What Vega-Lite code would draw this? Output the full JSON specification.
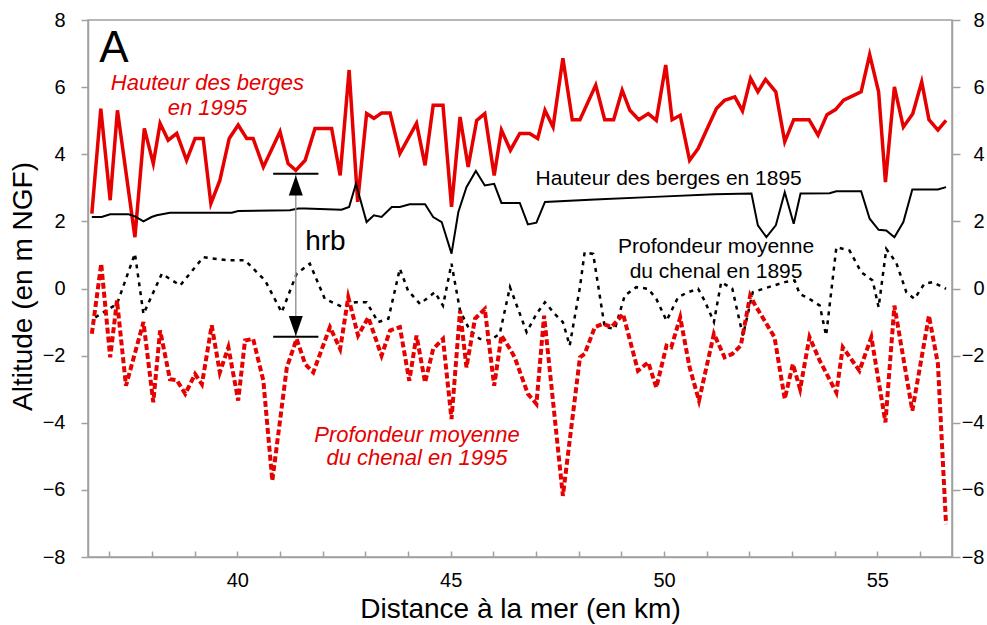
{
  "$schema": "https://vega.github.io/schema/vega-lite/v6.json",
  "width": 864,
  "height": 537,
  "autosize": {"type": "none"},
  "padding": {"left": 88, "top": 20, "right": 35, "bottom": 68},
  "background": "white",
  "config": {
    "view": {"stroke": "#a0a0a0", "strokeWidth": 1.5},
    "font": "Liberation Sans",
    "axis": {
      "grid": false,
      "domainColor": "#a0a0a0",
      "domainWidth": 1.5,
      "tickColor": "#a0a0a0",
      "tickWidth": 1.5,
      "labelFont": "Liberation Sans",
      "labelFontSize": 20,
      "labelColor": "#000000",
      "titleFont": "Liberation Sans",
      "titleFontWeight": "normal",
      "titleColor": "#000000"
    }
  },
  "datasets": {
    "berges1995": [
      {"km": 36.59, "alt": 2.23}, {"km": 36.80, "alt": 5.36}, {"km": 37.02, "alt": 2.63}, {"km": 37.19, "alt": 5.31},
      {"km": 37.60, "alt": 1.53}, {"km": 37.82, "alt": 4.77}, {"km": 38.03, "alt": 3.72}, {"km": 38.19, "alt": 4.92},
      {"km": 38.38, "alt": 4.42}, {"km": 38.58, "alt": 4.62}, {"km": 38.81, "alt": 3.82}, {"km": 39.01, "alt": 4.47},
      {"km": 39.20, "alt": 4.47}, {"km": 39.38, "alt": 2.53}, {"km": 39.59, "alt": 3.22}, {"km": 39.81, "alt": 4.47},
      {"km": 40.02, "alt": 4.87}, {"km": 40.22, "alt": 4.47}, {"km": 40.37, "alt": 4.47}, {"km": 40.61, "alt": 3.62},
      {"km": 41.00, "alt": 4.67}, {"km": 41.19, "alt": 3.72}, {"km": 41.37, "alt": 3.52}, {"km": 41.59, "alt": 3.82},
      {"km": 41.82, "alt": 4.77}, {"km": 42.21, "alt": 4.77}, {"km": 42.41, "alt": 3.37}, {"km": 42.62, "alt": 6.51},
      {"km": 42.82, "alt": 2.58}, {"km": 43.03, "alt": 5.21}, {"km": 43.20, "alt": 5.07}, {"km": 43.38, "alt": 5.23},
      {"km": 43.58, "alt": 5.23}, {"km": 43.81, "alt": 4.02}, {"km": 44.20, "alt": 4.92}, {"km": 44.40, "alt": 3.67},
      {"km": 44.59, "alt": 5.46}, {"km": 44.82, "alt": 5.46}, {"km": 45.02, "alt": 2.43}, {"km": 45.22, "alt": 5.11},
      {"km": 45.41, "alt": 3.62}, {"km": 45.61, "alt": 5.01}, {"km": 45.80, "alt": 5.21}, {"km": 46.02, "alt": 3.37},
      {"km": 46.19, "alt": 4.72}, {"km": 46.40, "alt": 4.12}, {"km": 46.62, "alt": 4.62}, {"km": 46.85, "alt": 4.62},
      {"km": 47.04, "alt": 4.47}, {"km": 47.21, "alt": 5.31}, {"km": 47.40, "alt": 4.81}, {"km": 47.63, "alt": 6.86},
      {"km": 47.85, "alt": 5.03}, {"km": 48.03, "alt": 5.03}, {"km": 48.40, "alt": 6.06}, {"km": 48.61, "alt": 5.03},
      {"km": 48.82, "alt": 5.03}, {"km": 49.02, "alt": 5.91}, {"km": 49.20, "alt": 5.31}, {"km": 49.41, "alt": 5.03},
      {"km": 49.63, "alt": 5.21}, {"km": 49.82, "alt": 5.01}, {"km": 50.04, "alt": 6.66}, {"km": 50.19, "alt": 5.03},
      {"km": 50.38, "alt": 5.16}, {"km": 50.60, "alt": 3.82}, {"km": 50.80, "alt": 4.17}, {"km": 51.03, "alt": 4.81},
      {"km": 51.23, "alt": 5.36}, {"km": 51.42, "alt": 5.61}, {"km": 51.66, "alt": 5.71}, {"km": 51.84, "alt": 5.29},
      {"km": 52.03, "alt": 6.26}, {"km": 52.20, "alt": 5.86}, {"km": 52.38, "alt": 6.23}, {"km": 52.62, "alt": 5.86},
      {"km": 52.83, "alt": 4.37}, {"km": 53.04, "alt": 5.03}, {"km": 53.40, "alt": 5.03}, {"km": 53.61, "alt": 4.57},
      {"km": 53.82, "alt": 5.18}, {"km": 54.02, "alt": 5.33}, {"km": 54.21, "alt": 5.61}, {"km": 54.41, "alt": 5.73},
      {"km": 54.62, "alt": 5.86}, {"km": 54.82, "alt": 6.97}, {"km": 55.03, "alt": 5.86}, {"km": 55.19, "alt": 3.17},
      {"km": 55.40, "alt": 6.01}, {"km": 55.61, "alt": 4.81}, {"km": 55.83, "alt": 5.21}, {"km": 56.04, "alt": 6.16},
      {"km": 56.21, "alt": 5.03}, {"km": 56.42, "alt": 4.72}, {"km": 56.61, "alt": 5.01}
    ],
    "berges1895": [
      {"km": 36.59, "alt": 2.13}, {"km": 36.82, "alt": 2.13}, {"km": 37.02, "alt": 2.21}, {"km": 37.45, "alt": 2.21},
      {"km": 37.60, "alt": 2.15}, {"km": 37.80, "alt": 2.00}, {"km": 37.99, "alt": 2.13}, {"km": 38.11, "alt": 2.18},
      {"km": 38.42, "alt": 2.26}, {"km": 39.87, "alt": 2.26}, {"km": 40.02, "alt": 2.31}, {"km": 41.23, "alt": 2.33},
      {"km": 41.43, "alt": 2.38}, {"km": 41.59, "alt": 2.38}, {"km": 42.44, "alt": 2.35}, {"km": 42.62, "alt": 2.43},
      {"km": 42.78, "alt": 3.12}, {"km": 43.03, "alt": 1.98}, {"km": 43.20, "alt": 2.18}, {"km": 43.38, "alt": 2.13},
      {"km": 43.62, "alt": 2.43}, {"km": 43.81, "alt": 2.43}, {"km": 44.04, "alt": 2.51}, {"km": 44.40, "alt": 2.51},
      {"km": 44.59, "alt": 2.13}, {"km": 44.79, "alt": 1.98}, {"km": 45.02, "alt": 1.04}, {"km": 45.18, "alt": 2.28},
      {"km": 45.37, "alt": 3.02}, {"km": 45.59, "alt": 3.50}, {"km": 45.80, "alt": 3.07}, {"km": 46.02, "alt": 3.12},
      {"km": 46.19, "alt": 2.55}, {"km": 46.62, "alt": 2.55}, {"km": 46.81, "alt": 1.91}, {"km": 47.01, "alt": 1.96},
      {"km": 47.21, "alt": 2.58}, {"km": 48.38, "alt": 2.65}, {"km": 49.78, "alt": 2.73}, {"km": 51.19, "alt": 2.81},
      {"km": 52.05, "alt": 2.83}, {"km": 52.20, "alt": 1.88}, {"km": 52.40, "alt": 1.53}, {"km": 52.62, "alt": 1.88},
      {"km": 52.83, "alt": 2.87}, {"km": 53.04, "alt": 1.93}, {"km": 53.20, "alt": 2.83}, {"km": 53.88, "alt": 2.84},
      {"km": 54.04, "alt": 2.90}, {"km": 54.62, "alt": 2.90}, {"km": 54.82, "alt": 2.08}, {"km": 55.03, "alt": 1.75},
      {"km": 55.21, "alt": 1.73}, {"km": 55.40, "alt": 1.53}, {"km": 55.61, "alt": 1.98}, {"km": 55.82, "alt": 2.95},
      {"km": 56.42, "alt": 2.95}, {"km": 56.61, "alt": 3.02}
    ],
    "prof1895": [
      {"km": 36.67, "alt": -0.86}, {"km": 37.18, "alt": -0.46}, {"km": 37.60, "alt": 1.04}, {"km": 37.80, "alt": -0.76},
      {"km": 38.23, "alt": 0.44}, {"km": 38.66, "alt": 0.09}, {"km": 39.20, "alt": 0.93}, {"km": 39.79, "alt": 0.84},
      {"km": 40.18, "alt": 0.84}, {"km": 40.65, "alt": 0.24}, {"km": 41.04, "alt": -0.71}, {"km": 41.39, "alt": 0.44},
      {"km": 41.70, "alt": 0.74}, {"km": 42.05, "alt": -0.31}, {"km": 42.48, "alt": -0.56}, {"km": 42.76, "alt": -0.41},
      {"km": 43.03, "alt": -0.41}, {"km": 43.30, "alt": -1.00}, {"km": 43.54, "alt": -0.90}, {"km": 43.81, "alt": 0.59},
      {"km": 44.00, "alt": -0.06}, {"km": 44.28, "alt": -0.46}, {"km": 44.63, "alt": -0.11}, {"km": 44.82, "alt": -0.51},
      {"km": 45.02, "alt": 0.74}, {"km": 45.22, "alt": -0.66}, {"km": 45.45, "alt": -1.25}, {"km": 45.68, "alt": -1.50},
      {"km": 45.92, "alt": -1.55}, {"km": 46.15, "alt": -1.35}, {"km": 46.39, "alt": 0.04}, {"km": 46.78, "alt": -1.30},
      {"km": 47.01, "alt": -0.76}, {"km": 47.21, "alt": -0.41}, {"km": 47.44, "alt": -0.76}, {"km": 47.63, "alt": -1.00},
      {"km": 47.79, "alt": -1.70}, {"km": 48.03, "alt": 0.04}, {"km": 48.14, "alt": 1.08}, {"km": 48.34, "alt": 1.03},
      {"km": 48.61, "alt": -1.15}, {"km": 48.85, "alt": -1.20}, {"km": 49.08, "alt": -0.21}, {"km": 49.35, "alt": 0.04},
      {"km": 49.63, "alt": -0.01}, {"km": 49.82, "alt": -0.31}, {"km": 50.06, "alt": -0.96}, {"km": 50.33, "alt": -0.26},
      {"km": 50.56, "alt": -0.11}, {"km": 50.80, "alt": -0.01}, {"km": 50.95, "alt": -0.36}, {"km": 51.17, "alt": -1.00},
      {"km": 51.34, "alt": 0.19}, {"km": 51.60, "alt": 0.00}, {"km": 51.77, "alt": -0.96}, {"km": 51.85, "alt": -1.40},
      {"km": 52.08, "alt": -0.11}, {"km": 52.32, "alt": -0.01}, {"km": 52.83, "alt": 0.19}, {"km": 53.06, "alt": 0.24},
      {"km": 53.18, "alt": -0.16}, {"km": 53.41, "alt": -0.31}, {"km": 53.65, "alt": -0.51}, {"km": 53.80, "alt": -1.40},
      {"km": 54.04, "alt": 1.23}, {"km": 54.35, "alt": 1.13}, {"km": 54.62, "alt": 0.49}, {"km": 54.89, "alt": 0.24},
      {"km": 55.03, "alt": -0.56}, {"km": 55.21, "alt": 1.18}, {"km": 55.44, "alt": 0.78}, {"km": 55.68, "alt": -0.11},
      {"km": 55.87, "alt": -0.31}, {"km": 56.10, "alt": 0.14}, {"km": 56.30, "alt": 0.19}, {"km": 56.61, "alt": -0.01}
    ],
    "prof1995": [
      {"km": 36.59, "alt": -1.35}, {"km": 36.81, "alt": 0.74}, {"km": 37.02, "alt": -2.05}, {"km": 37.18, "alt": -0.36},
      {"km": 37.39, "alt": -2.90}, {"km": 37.80, "alt": -1.00}, {"km": 38.03, "alt": -3.39}, {"km": 38.19, "alt": -1.25},
      {"km": 38.42, "alt": -2.70}, {"km": 38.58, "alt": -2.73}, {"km": 38.78, "alt": -3.14}, {"km": 39.01, "alt": -2.55},
      {"km": 39.17, "alt": -2.85}, {"km": 39.40, "alt": -1.10}, {"km": 39.59, "alt": -2.50}, {"km": 39.79, "alt": -1.75},
      {"km": 40.02, "alt": -3.34}, {"km": 40.18, "alt": -1.55}, {"km": 40.37, "alt": -1.50}, {"km": 40.61, "alt": -2.75},
      {"km": 40.82, "alt": -5.73}, {"km": 41.16, "alt": -2.35}, {"km": 41.39, "alt": -1.50}, {"km": 41.59, "alt": -2.25},
      {"km": 41.78, "alt": -2.50}, {"km": 42.17, "alt": -1.15}, {"km": 42.41, "alt": -1.80}, {"km": 42.60, "alt": -0.26},
      {"km": 42.83, "alt": -1.40}, {"km": 43.07, "alt": -0.86}, {"km": 43.38, "alt": -2.00}, {"km": 43.58, "alt": -1.25},
      {"km": 43.81, "alt": -1.15}, {"km": 44.03, "alt": -2.75}, {"km": 44.20, "alt": -1.40}, {"km": 44.40, "alt": -2.80},
      {"km": 44.59, "alt": -1.80}, {"km": 44.82, "alt": -1.50}, {"km": 45.02, "alt": -3.89}, {"km": 45.22, "alt": -0.66},
      {"km": 45.37, "alt": -2.35}, {"km": 45.57, "alt": -0.90}, {"km": 45.80, "alt": -0.61}, {"km": 46.02, "alt": -2.90},
      {"km": 46.19, "alt": -1.40}, {"km": 46.39, "alt": -1.80}, {"km": 46.50, "alt": -2.05}, {"km": 46.81, "alt": -3.14},
      {"km": 47.01, "alt": -3.44}, {"km": 47.19, "alt": -0.81}, {"km": 47.63, "alt": -6.18}, {"km": 48.03, "alt": -2.05},
      {"km": 48.14, "alt": -1.95}, {"km": 48.38, "alt": -1.15}, {"km": 48.57, "alt": -1.05}, {"km": 48.77, "alt": -1.15},
      {"km": 49.04, "alt": -0.76}, {"km": 49.39, "alt": -2.45}, {"km": 49.63, "alt": -2.20}, {"km": 49.82, "alt": -2.95},
      {"km": 50.06, "alt": -1.70}, {"km": 50.17, "alt": -1.75}, {"km": 50.38, "alt": -0.86}, {"km": 50.60, "alt": -2.35},
      {"km": 50.82, "alt": -3.34}, {"km": 51.17, "alt": -1.35}, {"km": 51.42, "alt": -2.05}, {"km": 51.60, "alt": -1.95},
      {"km": 51.80, "alt": -1.70}, {"km": 52.02, "alt": -0.21}, {"km": 52.12, "alt": -0.46}, {"km": 52.59, "alt": -1.45},
      {"km": 52.83, "alt": -3.29}, {"km": 53.02, "alt": -2.25}, {"km": 53.19, "alt": -3.00}, {"km": 53.41, "alt": -1.45},
      {"km": 53.65, "alt": -2.15}, {"km": 54.04, "alt": -3.10}, {"km": 54.19, "alt": -1.75}, {"km": 54.58, "alt": -2.45},
      {"km": 54.86, "alt": -1.45}, {"km": 55.19, "alt": -3.99}, {"km": 55.40, "alt": -0.51}, {"km": 55.82, "alt": -3.64},
      {"km": 56.21, "alt": -0.81}, {"km": 56.42, "alt": -2.25}, {"km": 56.61, "alt": -7.02}
    ],
    "labels": [
      {"kind": "panel", "label": "A", "km": 37.11, "alt": 6.74},
      {"kind": "red", "label": "Hauteur des berges", "km": 39.30, "alt": 5.90},
      {"kind": "red", "label": "en 1995", "km": 39.30, "alt": 5.16},
      {"kind": "red", "label": "Profondeur moyenne", "km": 44.21, "alt": -4.57},
      {"kind": "red", "label": "du chenal en 1995", "km": 44.21, "alt": -5.26},
      {"kind": "black", "label": "Hauteur des berges en 1895", "km": 50.11, "alt": 3.07},
      {"kind": "black", "label": "Profondeur moyenne", "km": 51.22, "alt": 1.05},
      {"kind": "black", "label": "du chenal en 1895", "km": 51.22, "alt": 0.31},
      {"kind": "hrb", "label": "hrb", "km": 41.59, "alt": 1.14}
    ],
    "hrbLine": [{"km": 41.37, "alt": 3.42, "alt2": -1.44}],
    "hrbBars": [
      {"km": 40.84, "km2": 41.90, "alt": 3.42},
      {"km": 40.84, "km2": 41.90, "alt": -1.44}
    ],
    "hrbHeads": [
      {"dir": "up", "km": 41.37, "alt": 3.07},
      {"dir": "down", "km": 41.37, "alt": -1.12}
    ]
  },
  "encoding": {
    "x": {
      "field": "km",
      "type": "quantitative",
      "scale": {"domain": [36.5, 56.75], "nice": false, "zero": false},
      "axis": {
        "title": "Distance à la mer (en km)",
        "titleFontSize": 28,
        "titleX": 432,
        "titleY": 60,
        "titleAlign": "center",
        "titleBaseline": "alphabetic",
        "values": [37, 38, 39, 40, 41, 42, 43, 44, 45, 46, 47, 48, 49, 50, 51, 52, 53, 54, 55, 56],
        "labelExpr": "datum.value % 5 == 0 ? datum.label : ''",
        "tickSize": -6,
        "labelPadding": 19,
        "labelBaseline": "top",
        "labelFlush": false,
        "labelOverlap": false
      }
    },
    "y": {
      "field": "alt",
      "type": "quantitative",
      "scale": {"domain": [-8, 8], "nice": false, "zero": false},
      "axis": null
    }
  },
  "resolve": {"scale": {"y": "independent"}, "axis": {"y": "independent"}},
  "layer": [
    {
      "data": {"name": "berges1995"},
      "mark": {"type": "line", "color": "#e60000", "strokeWidth": 3.5, "strokeJoin": "miter", "strokeMiterLimit": 5},
      "encoding": {
        "y": {
          "field": "alt",
          "type": "quantitative",
          "scale": {"domain": [-8, 8], "nice": false, "zero": false},
          "axis": {
            "orient": "left",
            "values": [-8, -6, -4, -2, 0, 2, 4, 6, 8],
            "tickSize": 7,
            "labelPadding": 16,
            "title": "Altitude (en m NGF)",
            "titleFontSize": 28,
            "titleAngle": -90,
            "titleX": -57,
            "titleY": 266,
            "titleAlign": "center",
            "titleBaseline": "alphabetic",
            "labelFlush": false,
            "labelOverlap": false
          }
        }
      }
    },
    {
      "data": {"name": "berges1895"},
      "mark": {"type": "line", "color": "#000000", "strokeWidth": 2},
      "encoding": {
        "y": {
          "field": "alt",
          "type": "quantitative",
          "scale": {"domain": [-8, 8], "nice": false, "zero": false},
          "axis": {
            "orient": "right",
            "values": [-8, -6, -4, -2, 0, 2, 4, 6, 8],
            "tickSize": 8,
            "labelPadding": 24,
            "labelAlign": "right",
            "title": null,
            "labelFlush": false,
            "labelOverlap": false
          }
        }
      }
    },
    {
      "data": {"name": "prof1895"},
      "mark": {"type": "line", "color": "#000000", "strokeWidth": 2.5, "strokeDash": [4, 5]}
    },
    {
      "data": {"name": "prof1995"},
      "mark": {"type": "line", "color": "#e60000", "strokeWidth": 4, "strokeDash": [6, 3], "strokeJoin": "miter", "strokeMiterLimit": 5}
    },
    {
      "data": {"name": "hrbLine"},
      "mark": {"type": "rule", "color": "#999999", "strokeWidth": 1.5},
      "encoding": {"y2": {"field": "alt2"}}
    },
    {
      "data": {"name": "hrbBars"},
      "mark": {"type": "rule", "color": "#000000", "strokeWidth": 2},
      "encoding": {"x2": {"field": "km2"}}
    },
    {
      "data": {"name": "hrbHeads"},
      "mark": {"type": "point", "filled": true, "color": "#000000", "opacity": 1, "size": 400},
      "encoding": {
        "shape": {
          "field": "dir",
          "type": "nominal",
          "scale": {"domain": ["up", "down"], "range": ["M0,-1L0.7,1L-0.7,1Z", "M0,1L0.7,-1L-0.7,-1Z"]},
          "legend": null
        }
      }
    },
    {
      "data": {"name": "labels"},
      "transform": [{"filter": "datum.kind == 'panel'"}],
      "mark": {"type": "text", "font": "Liberation Sans", "fontSize": 44, "color": "#000000", "align": "center", "baseline": "alphabetic"},
      "encoding": {"text": {"field": "label"}}
    },
    {
      "data": {"name": "labels"},
      "transform": [{"filter": "datum.kind == 'red'"}],
      "mark": {"type": "text", "font": "Liberation Sans", "fontSize": 22, "fontStyle": "italic", "color": "#e60000", "align": "center", "baseline": "alphabetic"},
      "encoding": {"text": {"field": "label"}}
    },
    {
      "data": {"name": "labels"},
      "transform": [{"filter": "datum.kind == 'black'"}],
      "mark": {"type": "text", "font": "Liberation Sans", "fontSize": 21, "color": "#000000", "align": "center", "baseline": "alphabetic"},
      "encoding": {"text": {"field": "label"}}
    },
    {
      "data": {"name": "labels"},
      "transform": [{"filter": "datum.kind == 'hrb'"}],
      "mark": {"type": "text", "font": "Liberation Sans", "fontSize": 28, "color": "#000000", "align": "left", "baseline": "alphabetic"},
      "encoding": {"text": {"field": "label"}}
    }
  ]
}
